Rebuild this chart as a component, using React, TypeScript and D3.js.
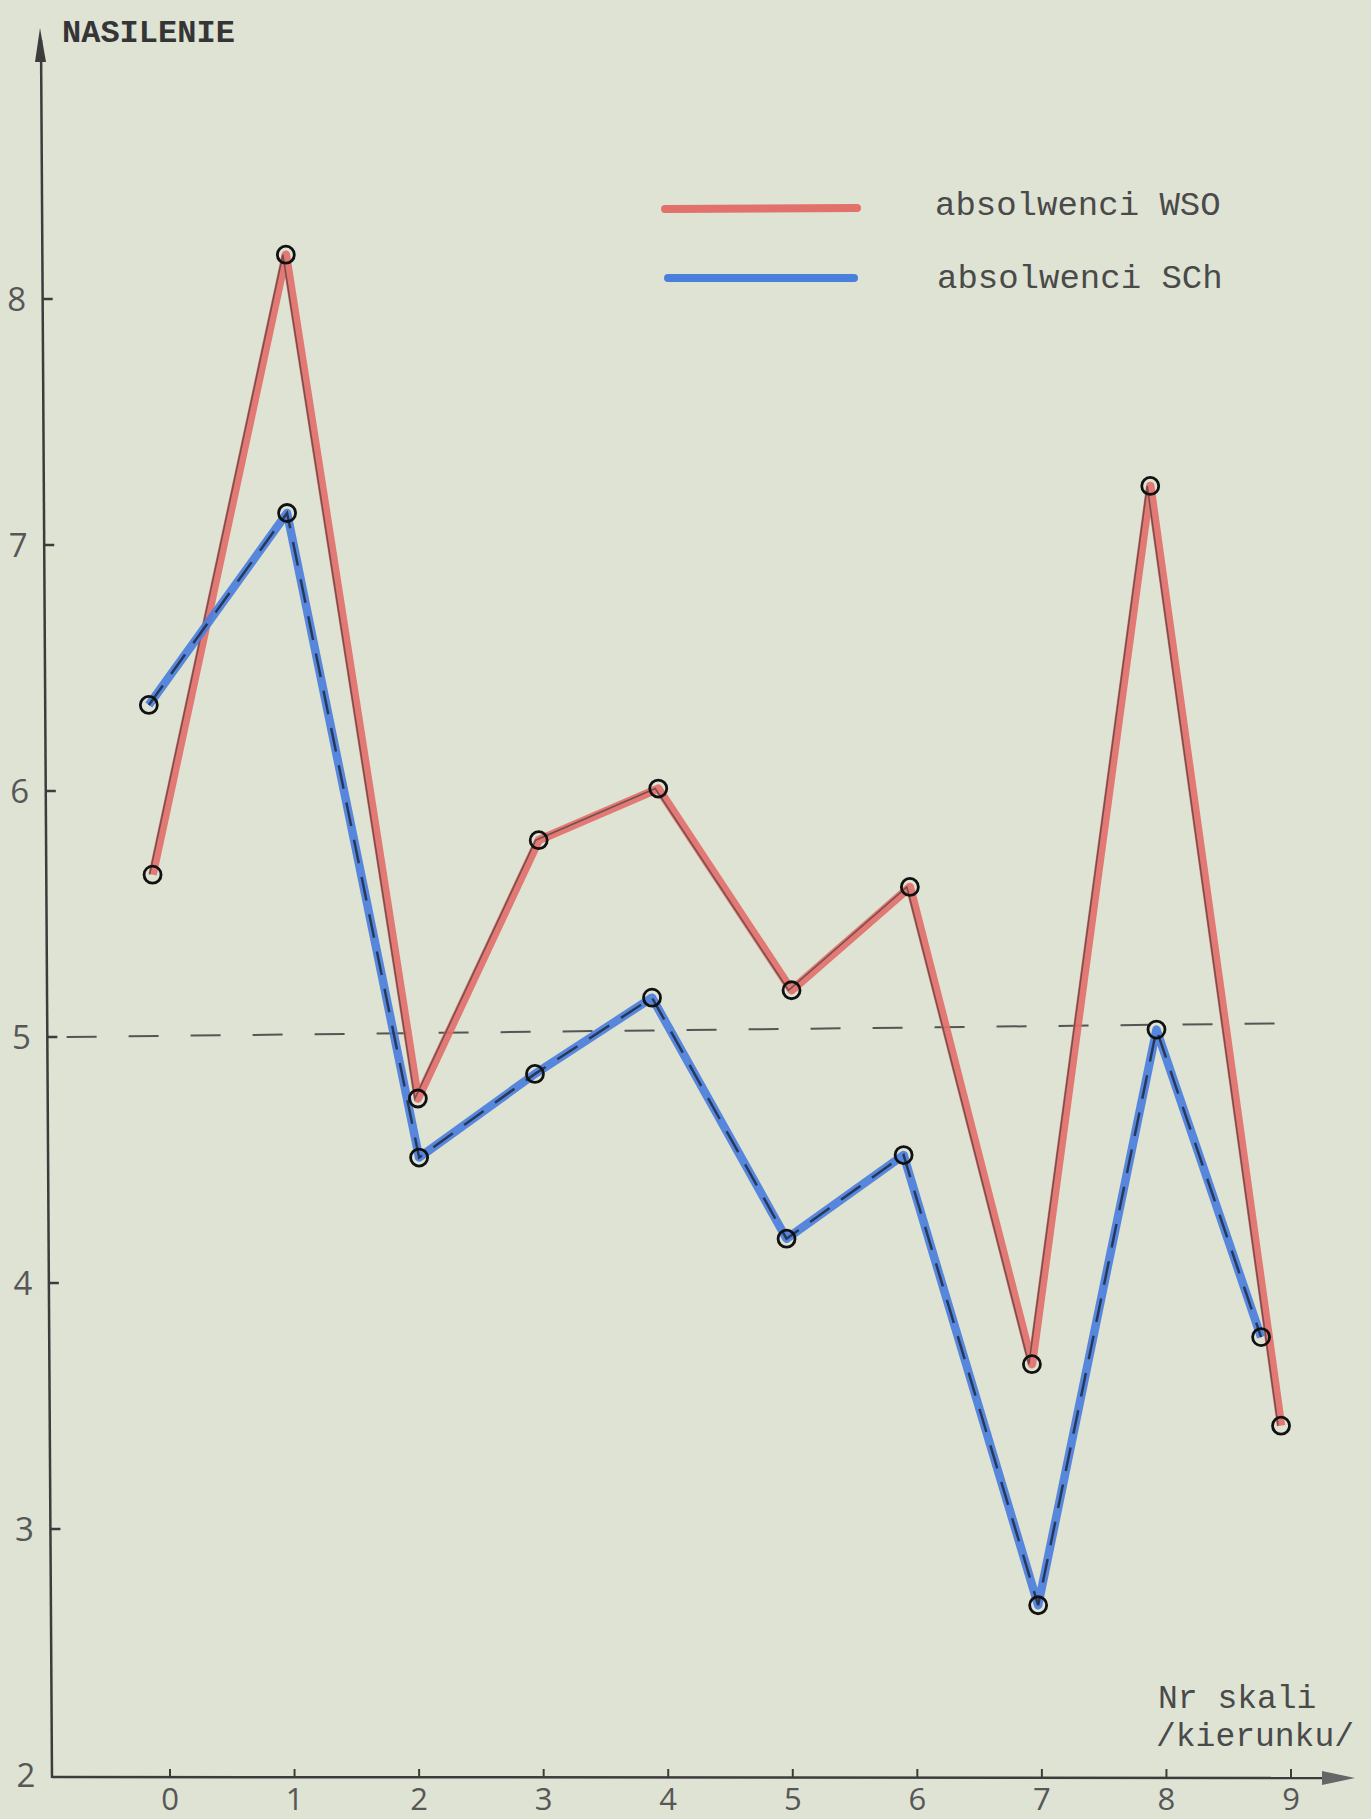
import React, { useEffect } from 'react';
import * as d3 from 'd3';

// Nr skali (kierunku) – categories on the x axis
const scaleNo = [0, 1, 2, 3, 4, 5, 6, 7, 8, 9];
const yTicks = [2, 3, 4, 5, 6, 7, 8];

const wsoX = [-0.14, 0.93, 1.99, 2.96, 3.92, 4.99, 5.94, 6.92, 7.87, 8.92];
const wsoY = [5.66, 8.18, 4.75, 5.8, 6.01, 5.19, 5.61, 3.67, 7.24, 3.42];
const schX = [-0.17, 0.94, 2.0, 2.93, 3.87, 4.95, 5.89, 6.97, 7.92, 8.76];
const schY = [6.35, 7.13, 4.51, 4.85, 5.16, 4.18, 4.52, 2.69, 5.03, 3.78];

const seriesNames = ['absolwenci WSO', 'absolwenci SCh'];
const refLevel = [5.0, 5.055];
const refRange = [-0.83, 8.88];

const W = 1371;
const H = 1819;
const paper = '#dfe3d4';
const red = '#e2706b';
const blue = '#4b7fdc';
const ink = '#3c3c3c';
const mono = '"Liberation Mono", "DejaVu Sans Mono", monospace';
const digits = '"Open Sans", "DejaVu Sans", sans-serif';

const x = d3.scaleLinear().domain([0, 9]).range([170, 1291]);
const y = d3.scaleLinear().domain([2, 8]).range([1775, 299]);

const line = d3
  .line<[number, number]>()
  .x(d => x(d[0]))
  .y(d => y(d[1]));

const wso = wsoX.map((v, i) => [v, wsoY[i]] as [number, number]);
const sch = schX.map((v, i) => [v, schY[i]] as [number, number]);

// slight lean of the hand-ruled y axis
const axisTopX = 41;
const axisBotX = 52;
const axisX = (py: number) => axisTopX + ((axisBotX - axisTopX) * (py - 28)) / (1777 - 28);

export default function App() {
  useEffect(() => {
    document.body.style.margin = '0';
    document.body.style.background = paper;
  }, []);

  return (
    <svg width={W} height={H} style={{ display: 'block', background: paper }}>
      <rect width={W} height={H} fill={paper} />

      {/* y axis */}
      <line x1={axisTopX} y1={40} x2={axisBotX} y2={1778} stroke={ink} strokeWidth={2.5} />
      <path d={`M${axisTopX - 6},${62} L${axisTopX - 1},${28} L${axisTopX + 5},${62} Z`} fill={ink} />
      {yTicks.map(t => (
        <g key={t}>
          {t > 2 && (
            <line x1={axisX(y(t))} y1={y(t)} x2={axisX(y(t)) + 10} y2={y(t)} stroke={ink} strokeWidth={2.5} />
          )}
          <text
            x={axisX(y(t)) - 26}
            y={y(t) + 12}
            textAnchor="middle"
            fontFamily={digits}
            fontWeight={400}
            fontSize={33}
            fill="#575757"
          >
            {t}
          </text>
        </g>
      ))}

      {/* x axis */}
      <line x1={axisBotX} y1={1777} x2={1340} y2={1778} stroke={ink} strokeWidth={2.5} />
      <path d="M1322,1771 L1355,1778 L1322,1785 Z" fill="#666" />
      {scaleNo.map(n => (
        <g key={n}>
          <line x1={x(n)} y1={1769} x2={x(n)} y2={1778} stroke={ink} strokeWidth={2} />
          <text
            x={x(n)}
            y={1810}
            textAnchor="middle"
            fontFamily={digits}
            fontWeight={400}
            fontSize={31}
            fill="#575757"
          >
            {n}
          </text>
        </g>
      ))}

      {/* reference level 5 */}
      <line
        x1={x(refRange[0])}
        y1={y(refLevel[0])}
        x2={x(refRange[1])}
        y2={y(refLevel[1])}
        stroke="#555"
        strokeWidth={2}
        strokeDasharray="30 32"
      />

      {/* WSO: red crayon over a pencil line */}
      <path d={line(wso) ?? ''} fill="none" stroke={red} strokeWidth={8.5} strokeLinejoin="round" opacity={0.92} />
      <path
        d={line(wso) ?? ''}
        transform="translate(-3,0)"
        fill="none"
        stroke="#333"
        strokeWidth={1.6}
        opacity={0.6}
      />

      {/* SCh: blue crayon with a dashed pencil line */}
      <path d={line(sch) ?? ''} fill="none" stroke={blue} strokeWidth={8.5} strokeLinejoin="round" opacity={0.92} />
      <path
        d={line(sch) ?? ''}
        fill="none"
        stroke="#1f2a44"
        strokeWidth={2.5}
        strokeDasharray="24 14"
        opacity={0.85}
      />

      {[...wso, ...sch].map((d, i) => (
        <circle key={i} cx={x(d[0])} cy={y(d[1])} r={8.5} fill="none" stroke="#111" strokeWidth={2.8} />
      ))}

      {/* legend */}
      <line x1={665} y1={209} x2={857} y2={208} stroke={red} strokeWidth={8} strokeLinecap="round" />
      <line x1={668} y1={278} x2={854} y2={278} stroke={blue} strokeWidth={8} strokeLinecap="round" />
      {seriesNames.map((s, i) => (
        <text key={s} x={935 + i * 2} y={215 + i * 73} fontFamily={mono} fontSize={34} fill="#4a4a4a">
          {s}
        </text>
      ))}

      {/* titles */}
      <text x={62} y={42} fontFamily={mono} fontWeight="bold" fontSize={32} fill="#353535">
        NASILENIE
      </text>
      <text x={1158} y={1708} fontFamily={mono} fontSize={33} fill="#4a4a4a">
        Nr skali
      </text>
      <text x={1156} y={1746} fontFamily={mono} fontSize={33} fill="#4a4a4a">
        /kierunku/
      </text>
    </svg>
  );
}
